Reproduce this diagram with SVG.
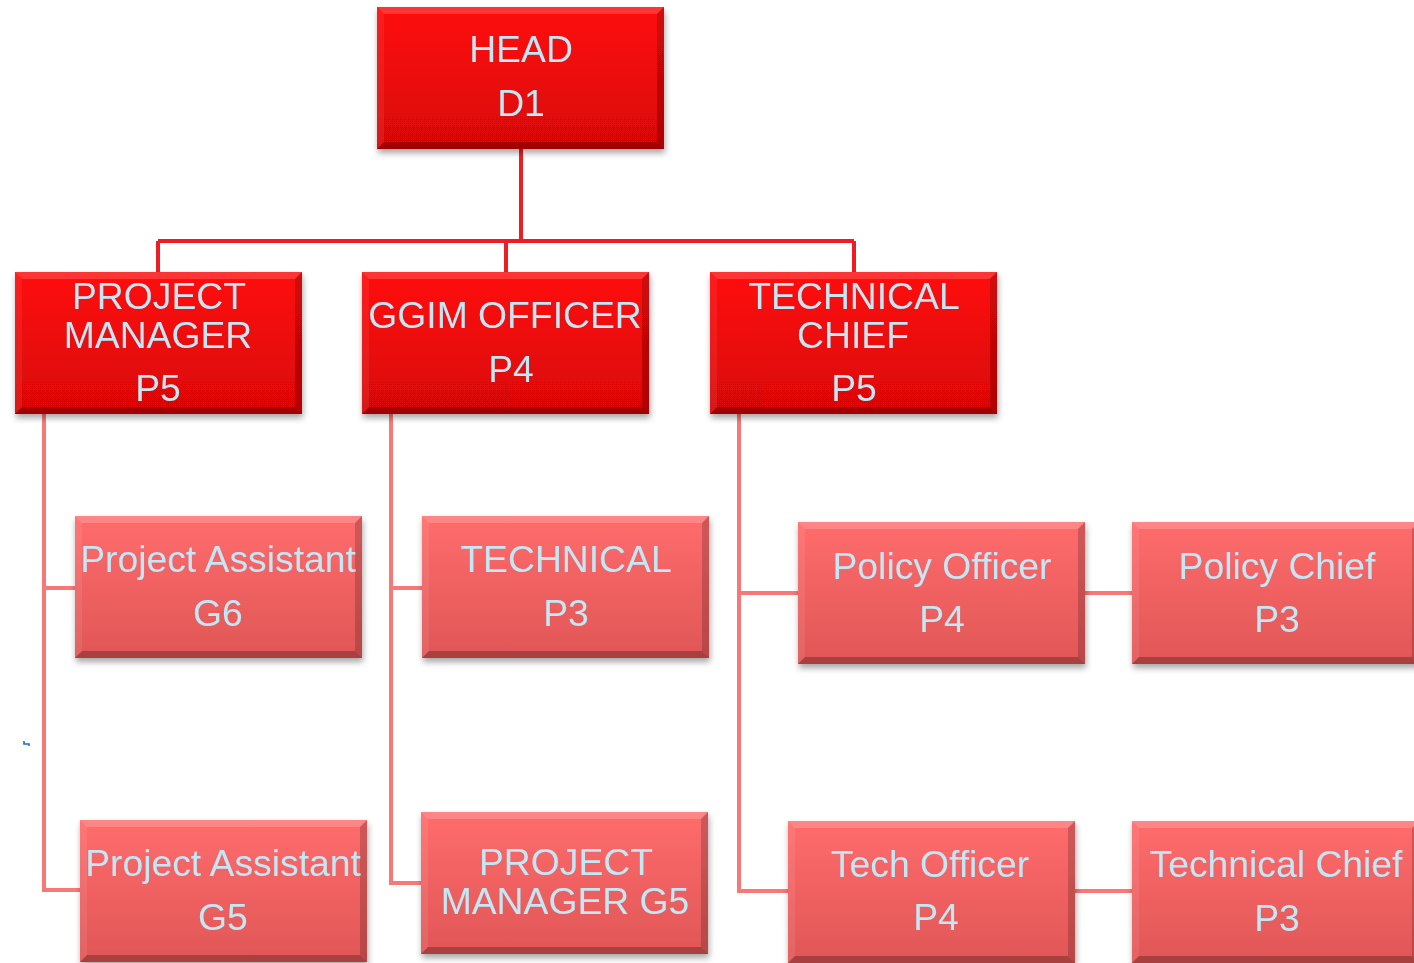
<svg xmlns="http://www.w3.org/2000/svg" xmlns:xlink="http://www.w3.org/1999/xlink" width="1414" height="963" viewBox="0 0 1414 963">
<style>
.t{font-family:"Liberation Sans",Arial,sans-serif;font-size:37.3px;fill:#c2e8f6;text-anchor:middle}
.cd{fill:none;stroke:#ee1c24;stroke-width:4}
.cl{fill:none;stroke:#f87878;stroke-width:4}
</style>
<defs>
<linearGradient id="gd" x1="0" y1="0" x2="0" y2="1">
<stop offset="0" stop-color="#ff0a0a"/><stop offset="1" stop-color="#d80606"/>
</linearGradient>
<linearGradient id="gl" x1="0" y1="0" x2="0" y2="1">
<stop offset="0" stop-color="#ff6c6c"/><stop offset="1" stop-color="#e05656"/>
</linearGradient>
<filter id="sh" x="-10%" y="-10%" width="120%" height="130%">
<feDropShadow dx="1" dy="4" stdDeviation="3" flood-color="#000" flood-opacity="0.35"/>
</filter>
<g id="bev">
<polygon points="0,0 287,0 280,7 7,7" fill="#fff" fill-opacity="0.18"/>
<polygon points="0,0 7,7 7,135 0,142" fill="#fff" fill-opacity="0.08"/>
<polygon points="287,0 287,142 280,135 280,7" fill="#000" fill-opacity="0.18"/>
<polygon points="0,142 287,142 280,135 7,135" fill="#000" fill-opacity="0.25"/>
</g>
<symbol id="bd" width="288" height="143" overflow="visible">
<rect width="287" height="142" fill="url(#gd)"/>
<use href="#bev"/>
</symbol>
<symbol id="bl" width="288" height="143" overflow="visible">
<rect width="287" height="142" fill="url(#gl)"/>
<use href="#bev"/>
</symbol>
</defs>
<rect width="1414" height="963" fill="#fff"/>
<g id="connectors">
<path class="cd" d="M521,149 V241 M158,241 H854 M158,241 V272 M506,241 V272 M854,241 V272"/>
<path class="cl" d="M44,414 V890 H80 M44,588 H75"/>
<path class="cl" d="M391,414 V883 H421 M391,588 H422"/>
<path class="cl" d="M739,414 V891 H788 M739,593 H798"/>
<path class="cl" d="M1084,593 H1132 M1073,891 H1132"/>
</g>
<g id="head" filter="url(#sh)"><use href="#bd" x="377" y="7"/>
<text class="t" x="521" y="62">HEAD</text><text class="t" x="521" y="116">D1</text></g>
<g id="project-manager" filter="url(#sh)"><use href="#bd" x="15" y="272"/>
<text class="t" x="159" y="309">PROJECT</text><text class="t" x="158" y="348">MANAGER</text><text class="t" x="158" y="401">P5</text></g>
<g id="ggim-officer" filter="url(#sh)"><use href="#bd" x="362" y="272"/>
<text class="t" x="505" y="328">GGIM OFFICER</text><text class="t" x="511" y="382">P4</text></g>
<g id="technical-chief" filter="url(#sh)"><use href="#bd" x="710" y="272"/>
<text class="t" x="854" y="309">TECHNICAL</text><text class="t" x="853" y="348">CHIEF</text><text class="t" x="854" y="401">P5</text></g>
<g id="project-assistant-g6" filter="url(#sh)"><use href="#bl" x="75" y="516"/>
<text class="t" x="218" y="572">Project Assistant</text><text class="t" x="218" y="626">G6</text></g>
<g id="technical-p3" filter="url(#sh)"><use href="#bl" x="422" y="516"/>
<text class="t" x="566" y="572">TECHNICAL</text><text class="t" x="566" y="626">P3</text></g>
<g id="policy-officer" filter="url(#sh)"><use href="#bl" x="798" y="522"/>
<text class="t" x="942" y="579">Policy Officer</text><text class="t" x="942" y="632">P4</text></g>
<g id="policy-chief" filter="url(#sh)"><use href="#bl" x="1132" y="522"/>
<text class="t" x="1277" y="579">Policy Chief</text><text class="t" x="1277" y="632">P3</text></g>
<g id="project-assistant-g5" filter="url(#sh)"><use href="#bl" x="80" y="820"/>
<text class="t" x="223" y="876">Project Assistant</text><text class="t" x="223" y="930">G5</text></g>
<g id="project-manager-g5" filter="url(#sh)"><use href="#bl" x="421" y="812"/>
<text class="t" x="566" y="875">PROJECT</text><text class="t" x="565" y="914">MANAGER G5</text></g>
<g id="tech-officer" filter="url(#sh)"><use href="#bl" x="788" y="821"/>
<text class="t" x="930" y="877">Tech Officer</text><text class="t" x="936" y="930">P4</text></g>
<g id="technical-chief-p3" filter="url(#sh)"><use href="#bl" x="1132" y="821"/>
<text class="t" x="1276" y="877">Technical Chief</text><text class="t" x="1277" y="931">P3</text></g>
<path d="M24,741 V744 H29 V746" fill="none" stroke="#1a6fc4" stroke-width="1.6"/>
</svg>
